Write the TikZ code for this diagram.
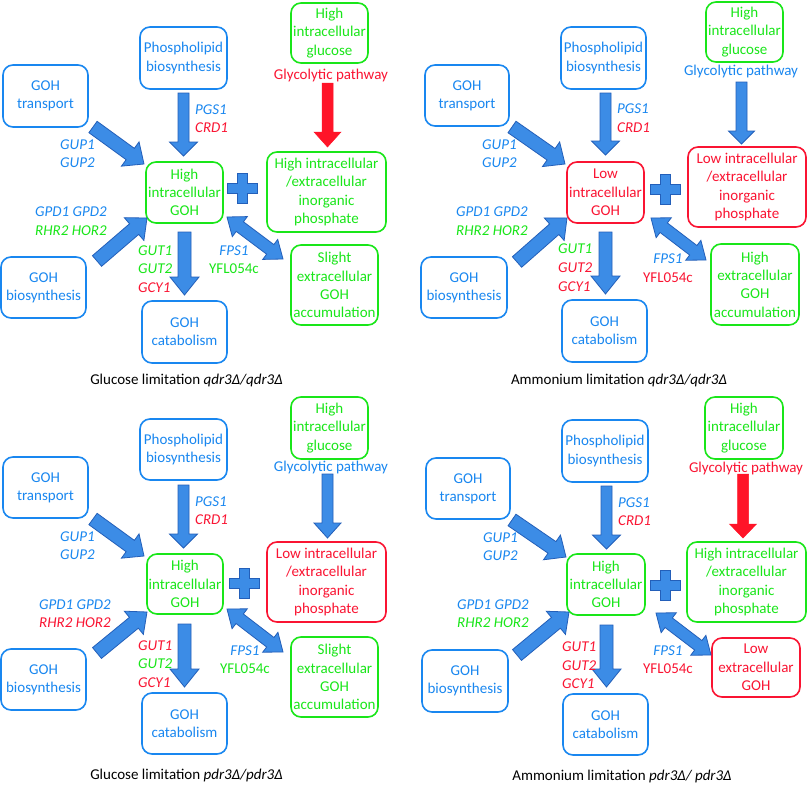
\documentclass[tikz,border=0pt]{standalone}
\usepackage{fontspec}
\setmainfont{Carlito}
\usetikzlibrary{calc}
\definecolor{cblue}{RGB}{25,135,240}
\definecolor{cgreen}{RGB}{25,230,25}
\definecolor{cred}{RGB}{250,20,50}
\definecolor{afill}{RGB}{60,140,230}
\definecolor{aline}{RGB}{35,95,185}
\definecolor{rfill}{RGB}{255,20,40}
\newcommand\boxfont{\fontsize{15pt}{18.3pt}\selectfont}
\newcommand\labfont{\fontsize{15pt}{18pt}\selectfont\itshape}
\newcommand\uplabfont{\fontsize{15pt}{18pt}\selectfont}
\newcommand\gbox[7]{%
  \node[box, draw=#6, text=#6, minimum width={(#4-#2)*1pt}, minimum height={(#5-#3)*1pt}] (#1) at ({(#2+#4)/2},{(#3+#5)/2}) {#7};}
\newcommand\blockarrow[6]{% style, from, to, shaft half, head half, head length
  \coordinate (ba-h) at ($(#3)!#6!(#2)$);
  \filldraw[#1] ($(#2)!#4!90:(#3)$) -- ($(ba-h)!#4!90:(#3)$) -- ($(ba-h)!#5!90:(#3)$) -- (#3)
    -- ($(ba-h)!#5!-90:(#3)$) -- ($(ba-h)!#4!-90:(#3)$) -- ($(#2)!#4!-90:(#3)$) -- cycle;}
\newcommand\dblarrow[6]{%
  \coordinate (da-h) at ($(#3)!#6!(#2)$);
  \coordinate (da-t) at ($(#2)!#6!(#3)$);
  \filldraw[#1] (#2) -- ($(da-t)!#5!90:(#3)$) -- ($(da-t)!#4!90:(#3)$) -- ($(da-h)!#4!90:(#3)$)
    -- ($(da-h)!#5!90:(#3)$) -- (#3) -- ($(da-h)!#5!-90:(#3)$) -- ($(da-h)!#4!-90:(#3)$)
    -- ($(da-t)!#4!-90:(#3)$) -- ($(da-t)!#5!-90:(#3)$) -- cycle;}
\tikzset{
  box/.style={draw, rounded corners=10pt, line width=1.6pt, align=center, font=\boxfont, inner sep=0pt},
  lab/.style={font=\labfont, inner sep=0pt, anchor=west},
  clab/.style={font=\labfont, inner sep=0pt, anchor=center},
  uplab/.style={font=\uplabfont, inner sep=0pt},
  captext/.style={font=\uplabfont, inner sep=0pt, text=black},
  arrowblue/.style={fill=afill, draw=aline, line width=0.8pt, line join=miter},
  arrowred/.style={fill=rfill, draw=rfill, line width=0.5pt, line join=miter},
  plussign/.pic={\filldraw[arrowblue] (-5,-15) -- (5,-15) -- (5,-5) -- (15,-5) -- (15,5) -- (5,5) -- (5,15) -- (-5,15) -- (-5,5) -- (-15,5) -- (-15,-5) -- (-5,-5) -- cycle;}
}
\begin{document}
\begin{tikzpicture}[x=1pt,y=-1pt]
\useasboundingbox (0,0) rectangle (808,784);
\fill[white] (0,0) rectangle (808,784);

% ================= Quadrant A (top left)
\gbox{a-tr}{3}{65}{88}{127}{cblue}{GOH\\transport}
\gbox{a-ph}{140}{27}{227}{89}{cblue}{Phospholipid\\biosynthesis}
\gbox{a-gl}{291}{3}{368}{63}{cgreen}{High\\intracellular\\glucose}
\gbox{a-goh}{146}{162}{223}{223}{cgreen}{High\\intracellular\\GOH}
\gbox{a-pi}{267}{152}{386}{232}{cgreen}{High intracellular\\/extracellular\\inorganic\\phosphate}
\gbox{a-bs}{1}{257}{86}{318}{cblue}{GOH\\biosynthesis}
\gbox{a-ca}{142}{301}{227}{363}{cblue}{GOH\\catabolism}
\gbox{a-ex}{291}{245}{378}{325}{cgreen}{Slight\\extracellular\\GOH\\accumulation}
\node[uplab, text=cred] (a-gp) at (331,76) {Glycolytic pathway};
\coordinate (a-p1) at (183.5,93);  \coordinate (a-p2) at (183.5,156);
\coordinate (a-g1) at (327.5,83);  \coordinate (a-g2) at (327.5,147);
\coordinate (a-t1) at (93,127);    \coordinate (a-t2) at (144,164);
\coordinate (a-b1) at (97,261);    \coordinate (a-b2) at (147,218);
\coordinate (a-c1) at (184.5,232); \coordinate (a-c2) at (184.5,295);
\coordinate (a-d1) at (227,217);   \coordinate (a-d2) at (283,259);
\blockarrow{arrowblue}{a-p1}{a-p2}{5.5pt}{14pt}{14pt}
\blockarrow{arrowred}{a-g1}{a-g2}{5.5pt}{13.5pt}{15pt}
\blockarrow{arrowblue}{a-t1}{a-t2}{7pt}{15pt}{17pt}
\blockarrow{arrowblue}{a-b1}{a-b2}{7pt}{15pt}{17pt}
\blockarrow{arrowblue}{a-c1}{a-c2}{6.5pt}{14.5pt}{18pt}
\dblarrow{arrowblue}{a-d1}{a-d2}{6pt}{12.5pt}{16pt}
\pic (a-plus) at (242,188) {plussign};
\node[lab, text=cblue] (a-pgs) at (195,110) {PGS1};
\node[lab, text=cred] (a-crd) at (195,128) {CRD1};
\node[lab, text=cblue] (a-gup1) at (60,145) {GUP1};
\node[lab, text=cblue] (a-gup2) at (60,163) {GUP2};
\node[lab, text=cblue] (a-gpd) at (35,212) {GPD1 GPD2};
\node[lab, text=cgreen] (a-rhr) at (35,231) {RHR2 HOR2};
\node[lab, text=cgreen] (a-gut1) at (138,251) {GUT1};
\node[lab, text=cgreen] (a-gut2) at (138,269) {GUT2};
\node[lab, text=cred] (a-gcy) at (138,288) {GCY1};
\node[clab, text=cblue] (a-fps) at (234,251) {FPS1};
\node[uplab, text=cgreen] (a-yfl) at (234,269) {YFL054c};
\node[captext] (a-cap) at (186.5,380) {Glucose limitation \textit{qdr3Δ/qdr3Δ}};

% ================= Quadrant B (top right)
\gbox{b-tr}{425}{65}{509}{126}{cblue}{GOH\\transport}
\gbox{b-ph}{561}{27}{646}{89}{cblue}{Phospholipid\\biosynthesis}
\gbox{b-gl}{706}{2}{783}{62}{cgreen}{High\\intracellular\\glucose}
\gbox{b-goh}{567}{162}{644}{223}{cred}{Low\\intracellular\\GOH}
\gbox{b-pi}{688}{147}{806}{227}{cred}{Low intracellular\\/extracellular\\inorganic\\phosphate}
\gbox{b-bs}{421}{257}{507}{318}{cblue}{GOH\\biosynthesis}
\gbox{b-ca}{562}{300}{647}{362}{cblue}{GOH\\catabolism}
\gbox{b-ex}{711}{244}{799}{325}{cgreen}{High\\extracellular\\GOH\\accumulation}
\node[uplab, text=cblue] (b-gp) at (741,72) {Glycolytic pathway};
\coordinate (b-p1) at (605.5,93);  \coordinate (b-p2) at (605.5,155);
\coordinate (b-g1) at (741.5,82);  \coordinate (b-g2) at (741.5,144);
\coordinate (b-t1) at (512,127);   \coordinate (b-t2) at (565,164);
\coordinate (b-b1) at (517,262);   \coordinate (b-b2) at (567,218);
\coordinate (b-c1) at (605.5,232); \coordinate (b-c2) at (605.5,294);
\coordinate (b-d1) at (651,218);   \coordinate (b-d2) at (706,260);
\blockarrow{arrowblue}{b-p1}{b-p2}{5.5pt}{14pt}{14pt}
\blockarrow{arrowblue}{b-g1}{b-g2}{5.5pt}{13pt}{13pt}
\blockarrow{arrowblue}{b-t1}{b-t2}{7pt}{15pt}{17pt}
\blockarrow{arrowblue}{b-b1}{b-b2}{7pt}{15pt}{17pt}
\blockarrow{arrowblue}{b-c1}{b-c2}{6.5pt}{14.5pt}{18pt}
\dblarrow{arrowblue}{b-d1}{b-d2}{6pt}{12.5pt}{16pt}
\pic (b-plus) at (665,189) {plussign};
\node[lab, text=cblue] (b-pgs) at (617,109) {PGS1};
\node[lab, text=cred] (b-crd) at (617,128) {CRD1};
\node[lab, text=cblue] (b-gup1) at (482,145) {GUP1};
\node[lab, text=cblue] (b-gup2) at (482,163) {GUP2};
\node[lab, text=cblue] (b-gpd) at (456,212) {GPD1 GPD2};
\node[lab, text=cgreen] (b-rhr) at (456,231) {RHR2 HOR2};
\node[lab, text=cgreen] (b-gut1) at (558,249) {GUT1};
\node[lab, text=cred] (b-gut2) at (558,268) {GUT2};
\node[lab, text=cred] (b-gcy) at (558,287) {GCY1};
\node[clab, text=cblue] (b-fps) at (668,259) {FPS1};
\node[uplab, text=cred] (b-yfl) at (668,278) {YFL054c};
\node[captext] (b-cap) at (619,380) {Ammonium limitation \textit{qdr3Δ/qdr3Δ}};

% ================= Quadrant C (bottom left)
\gbox{c-tr}{3}{457}{88}{518}{cblue}{GOH\\transport}
\gbox{c-ph}{140}{419}{227}{480}{cblue}{Phospholipid\\biosynthesis}
\gbox{c-gl}{291}{397}{368}{459}{cgreen}{High\\intracellular\\glucose}
\gbox{c-goh}{147}{554}{223}{614}{cgreen}{High\\intracellular\\GOH}
\gbox{c-pi}{267}{542}{386}{622}{cred}{Low intracellular\\/extracellular\\inorganic\\phosphate}
\gbox{c-bs}{1}{649}{86}{710}{cblue}{GOH\\biosynthesis}
\gbox{c-ca}{142}{693}{227}{754}{cblue}{GOH\\catabolism}
\gbox{c-ex}{291}{637}{378}{717}{cgreen}{Slight\\extracellular\\GOH\\accumulation}
\node[uplab, text=cblue] (c-gp) at (331,467) {Glycolytic pathway};
\coordinate (c-p1) at (183.5,485); \coordinate (c-p2) at (183.5,548);
\coordinate (c-g1) at (327.5,474); \coordinate (c-g2) at (327.5,538);
\coordinate (c-t1) at (93,519);    \coordinate (c-t2) at (144,556);
\coordinate (c-b1) at (97,653);    \coordinate (c-b2) at (147,612);
\coordinate (c-c1) at (184.5,624); \coordinate (c-c2) at (184.5,687);
\coordinate (c-d1) at (227,609);   \coordinate (c-d2) at (283,652);
\blockarrow{arrowblue}{c-p1}{c-p2}{5.5pt}{14pt}{14pt}
\blockarrow{arrowblue}{c-g1}{c-g2}{5.5pt}{13.5pt}{15pt}
\blockarrow{arrowblue}{c-t1}{c-t2}{7pt}{15pt}{17pt}
\blockarrow{arrowblue}{c-b1}{c-b2}{7pt}{15pt}{17pt}
\blockarrow{arrowblue}{c-c1}{c-c2}{6.5pt}{14.5pt}{18pt}
\dblarrow{arrowblue}{c-d1}{c-d2}{6pt}{12.5pt}{16pt}
\pic (c-plus) at (244,583) {plussign};
\node[lab, text=cblue] (c-pgs) at (195,502) {PGS1};
\node[lab, text=cred] (c-crd) at (195,520) {CRD1};
\node[lab, text=cblue] (c-gup1) at (60,537) {GUP1};
\node[lab, text=cblue] (c-gup2) at (60,555) {GUP2};
\node[lab, text=cblue] (c-gpd) at (39,605) {GPD1 GPD2};
\node[lab, text=cred] (c-rhr) at (39,623) {RHR2 HOR2};
\node[lab, text=cred] (c-gut1) at (138,646) {GUT1};
\node[lab, text=cgreen] (c-gut2) at (138,664) {GUT2};
\node[lab, text=cred] (c-gcy) at (138,683) {GCY1};
\node[clab, text=cblue] (c-fps) at (245,651) {FPS1};
\node[uplab, text=cgreen] (c-yfl) at (245,669) {YFL054c};
\node[captext] (c-cap) at (186.5,775) {Glucose limitation \textit{pdr3Δ/pdr3Δ}};

% ================= Quadrant D (bottom right)
\gbox{d-tr}{426}{458}{510}{519}{cblue}{GOH\\transport}
\gbox{d-ph}{562}{420}{648}{482}{cblue}{Phospholipid\\biosynthesis}
\gbox{d-gl}{705}{397}{783}{459}{cgreen}{High\\intracellular\\glucose}
\gbox{d-goh}{567}{554}{645}{615}{cgreen}{High\\intracellular\\GOH}
\gbox{d-pi}{687}{542}{806}{622}{cgreen}{High intracellular\\/extracellular\\inorganic\\phosphate}
\gbox{d-bs}{422}{650}{508}{712}{cblue}{GOH\\biosynthesis}
\gbox{d-ca}{563}{694}{648}{755}{cblue}{GOH\\catabolism}
\gbox{d-ex}{712}{638}{800}{697}{cred}{Low\\extracellular\\GOH}
\node[uplab, text=cred] (d-gp) at (746,468) {Glycolytic pathway};
\coordinate (d-p1) at (606.5,486); \coordinate (d-p2) at (606.5,549);
\coordinate (d-g1) at (743,474);   \coordinate (d-g2) at (743,538);
\coordinate (d-t1) at (512,520);   \coordinate (d-t2) at (566,557);
\coordinate (d-b1) at (517,655);   \coordinate (d-b2) at (569,612);
\coordinate (d-c1) at (606.5,625); \coordinate (d-c2) at (606.5,687);
\coordinate (d-d1) at (656,613);   \coordinate (d-d2) at (711,655);
\blockarrow{arrowblue}{d-p1}{d-p2}{5.5pt}{14pt}{14pt}
\blockarrow{arrowred}{d-g1}{d-g2}{5.5pt}{13.5pt}{14pt}
\blockarrow{arrowblue}{d-t1}{d-t2}{7pt}{15pt}{17pt}
\blockarrow{arrowblue}{d-b1}{d-b2}{7pt}{15pt}{17pt}
\blockarrow{arrowblue}{d-c1}{d-c2}{6.5pt}{14.5pt}{18pt}
\dblarrow{arrowblue}{d-d1}{d-d2}{6pt}{12.5pt}{16pt}
\pic (d-plus) at (665.5,585) {plussign};
\node[lab, text=cblue] (d-pgs) at (618,503) {PGS1};
\node[lab, text=cred] (d-crd) at (618,521) {CRD1};
\node[lab, text=cblue] (d-gup1) at (483,538) {GUP1};
\node[lab, text=cblue] (d-gup2) at (483,556) {GUP2};
\node[lab, text=cblue] (d-gpd) at (457,605) {GPD1 GPD2};
\node[lab, text=cgreen] (d-rhr) at (457,623) {RHR2 HOR2};
\node[lab, text=cred] (d-gut1) at (562,647) {GUT1};
\node[lab, text=cred] (d-gut2) at (562,666) {GUT2};
\node[lab, text=cred] (d-gcy) at (562,684) {GCY1};
\node[clab, text=cblue] (d-fps) at (668,651) {FPS1};
\node[uplab, text=cred] (d-yfl) at (668,669) {YFL054c};
\node[captext] (d-cap) at (622,776) {Ammonium limitation \textit{pdr3Δ/ pdr3Δ}};
\end{tikzpicture}
\end{document}
